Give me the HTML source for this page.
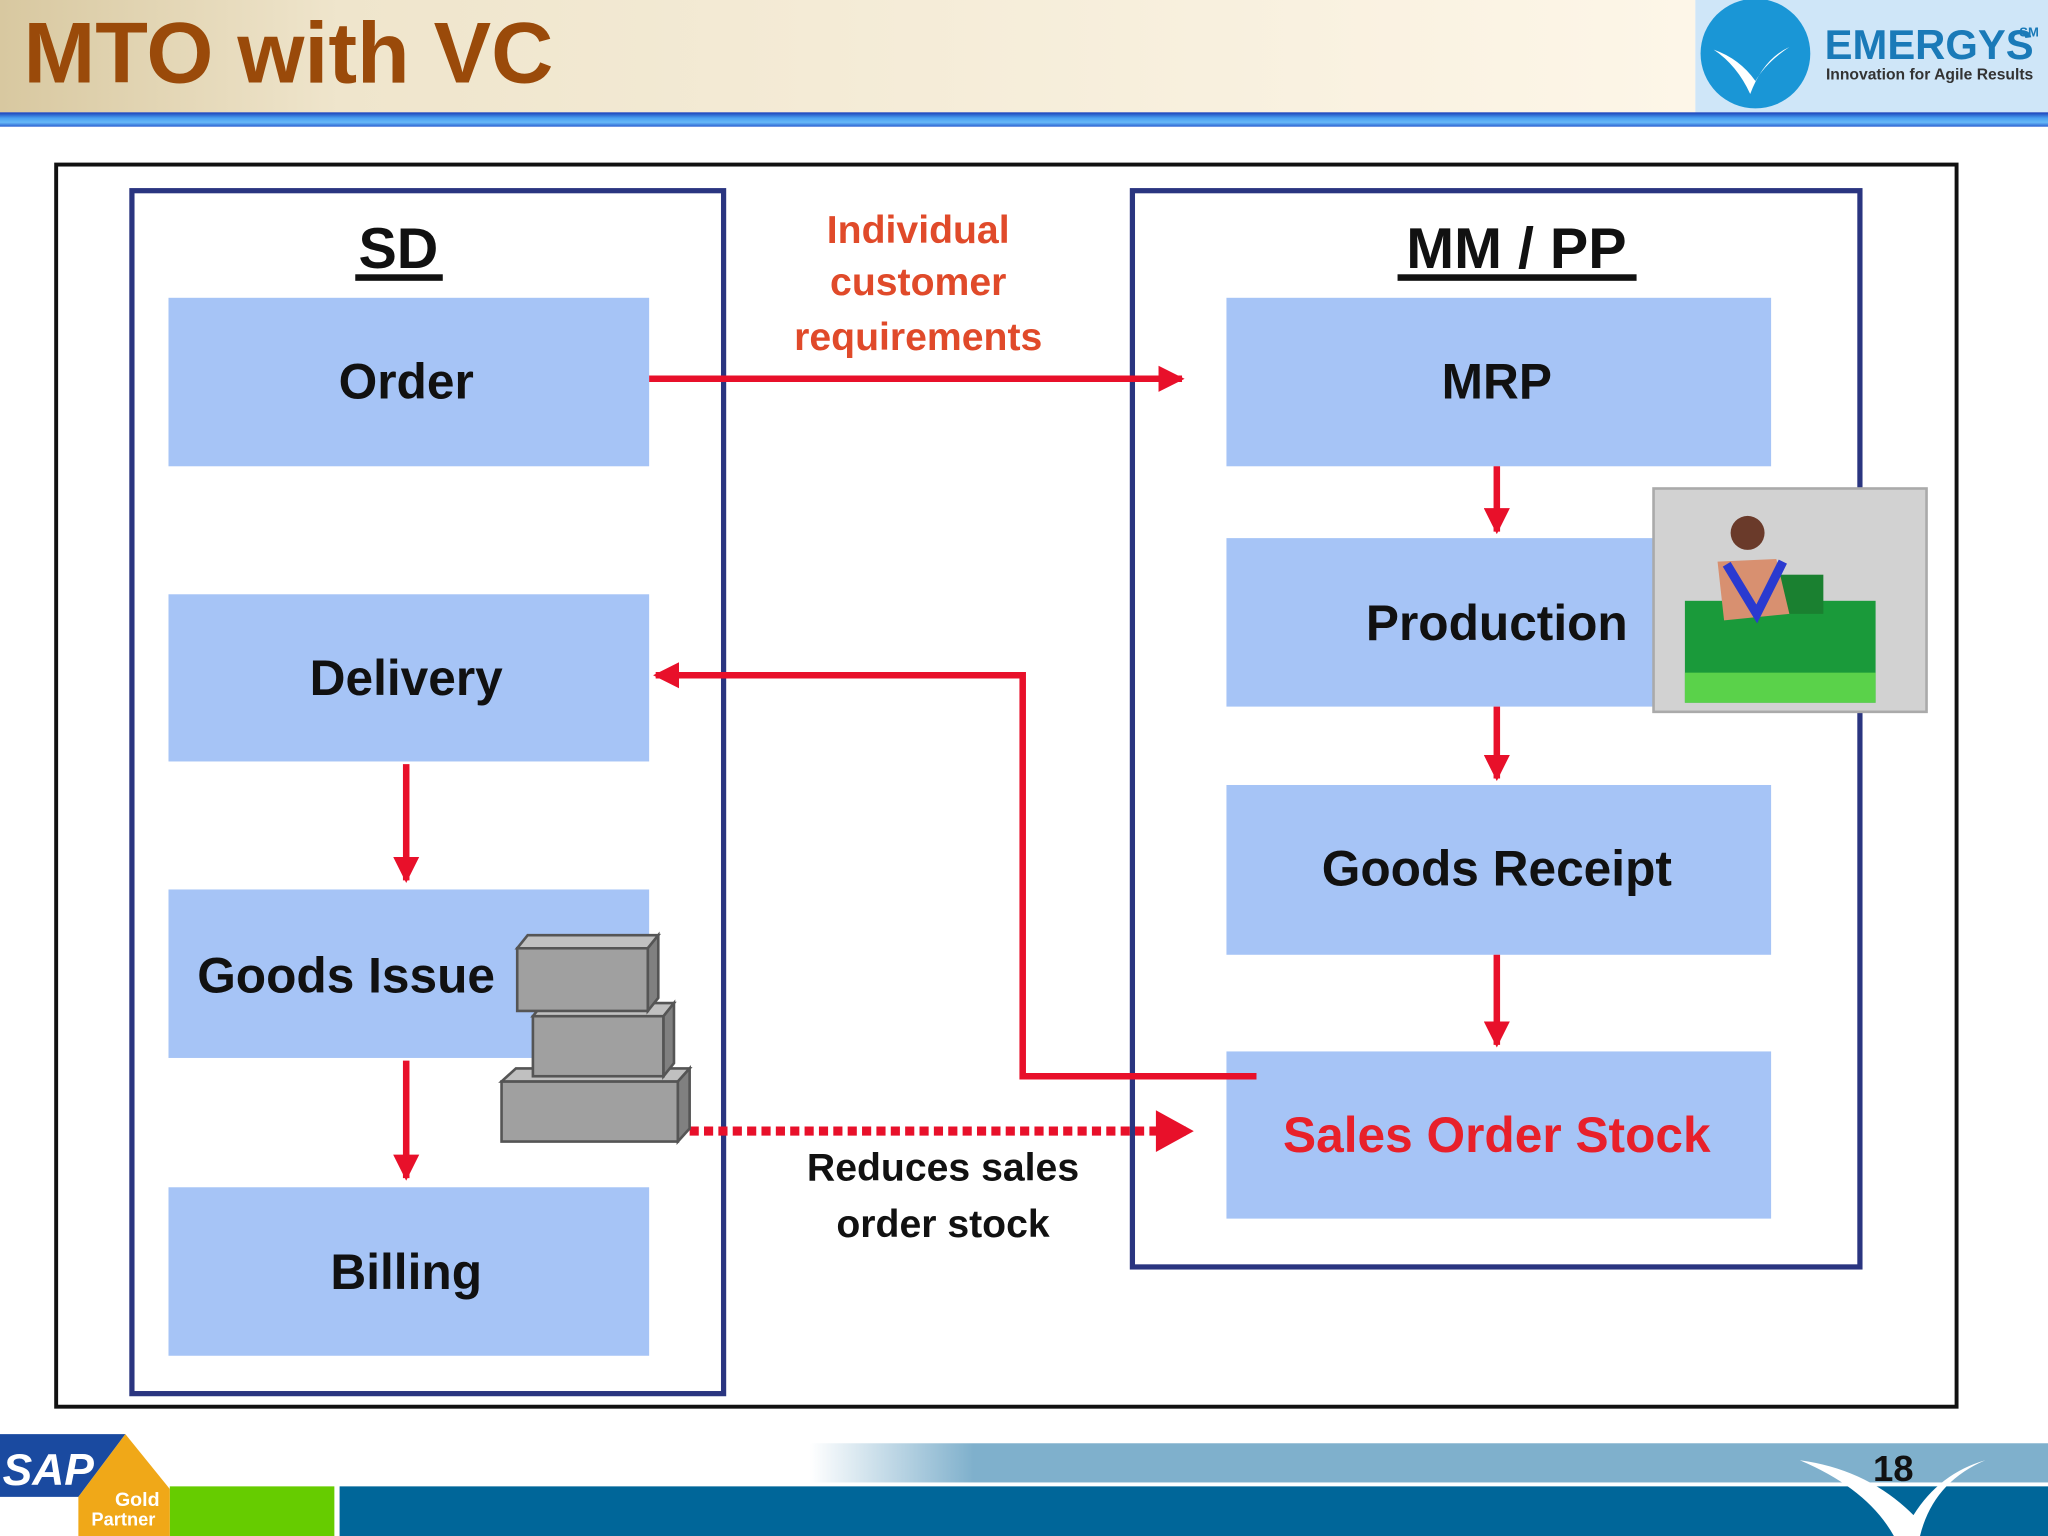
<!DOCTYPE html>
<html><head><meta charset="utf-8"><style>
html,body{margin:0;padding:0;background:#fff;overflow:hidden}
svg{display:block}
text{font-family:"Liberation Sans",Arial,sans-serif;font-weight:bold}
</style></head><body>
<svg width="2048" height="1536" viewBox="0 0 1568 1176" xmlns="http://www.w3.org/2000/svg">
<defs>
<linearGradient id="hd" x1="0" x2="1" y1="0" y2="0">
<stop offset="0" stop-color="#d8c8a0"/><stop offset="0.2" stop-color="#efe5cc"/><stop offset="1" stop-color="#fdf6e8"/></linearGradient>
<linearGradient id="bb" x1="0" x2="0" y1="0" y2="1">
<stop offset="0" stop-color="#1a3fb8"/><stop offset="0.4" stop-color="#4aa0f0"/><stop offset="0.7" stop-color="#66b8f8"/><stop offset="1" stop-color="#2a5fd0"/></linearGradient>
<linearGradient id="fl" x1="0" x2="1" y1="0" y2="0">
<stop offset="0" stop-color="#fff"/><stop offset="0.08" stop-color="#7fb0cc"/><stop offset="1" stop-color="#7fb0cc"/></linearGradient>
<marker id="ah" viewBox="0 0 10 10" refX="9" refY="5" markerWidth="4" markerHeight="4" orient="auto"><path d="M0,0L10,5L0,10z" fill="#e8102a"/></marker>
</defs>
<rect x="0" y="0" width="1298" height="86" fill="url(#hd)"/>
<rect x="1298" y="0" width="270" height="86" fill="#cfe6f8"/>
<text x="18" y="63" font-size="66" fill="#9a4a0a" font-family="Liberation Sans">MTO with VC</text>
<ellipse cx="1344" cy="41" rx="42" ry="42" fill="#1a96d6"/>
<path d="M1312,38 Q1330,50 1340,72 Q1350,45 1370,36 Q1352,48 1344,62 Q1332,45 1312,38z" fill="#fff"/>
<text x="1397" y="45" font-size="32" fill="#1a7ab8" font-weight="normal">EMERGYS</text>
<text x="1546" y="28" font-size="10" fill="#1a7ab8" font-weight="normal">SM</text>
<text x="1398" y="61" font-size="12" fill="#333" font-weight="normal">Innovation for Agile Results</text>
<rect x="0" y="86" width="1568" height="11" fill="url(#bb)"/>

<rect x="43" y="126" width="1455" height="951" fill="#fff" stroke="#111" stroke-width="3"/>
<rect x="101" y="146" width="453" height="921" fill="none" stroke="#2a3580" stroke-width="4"/>
<rect x="867" y="146" width="557" height="824" fill="none" stroke="#2a3580" stroke-width="4"/>
<text x="305" y="205" font-size="44" text-anchor="middle" fill="#111">SD</text>
<rect x="272" y="210" width="67" height="5" fill="#111"/>
<text x="1161" y="205" font-size="44" text-anchor="middle" fill="#111">MM / PP</text>
<rect x="1070" y="210" width="183" height="5" fill="#111"/>

<g fill="#a6c4f6">
<rect x="129" y="228" width="368" height="129"/>
<rect x="129" y="455" width="368" height="128"/>
<rect x="129" y="681" width="368" height="129"/>
<rect x="129" y="909" width="368" height="129"/>
<rect x="939" y="228" width="417" height="129"/>
<rect x="939" y="412" width="417" height="129"/>
<rect x="939" y="601" width="417" height="130"/>
<rect x="939" y="805" width="417" height="128"/>
</g>
<g font-size="38" fill="#111" text-anchor="middle">
<text x="311" y="305">Order</text>
<text x="311" y="532">Delivery</text>
<text x="265" y="760">Goods Issue</text>
<text x="311" y="987">Billing</text>
<text x="1146" y="305">MRP</text>
<text x="1146" y="490">Production</text>
<text x="1146" y="678">Goods Receipt</text>
<text x="1146" y="882" fill="#e8202a">Sales Order Stock</text>
</g>
<g font-size="30" fill="#e04a2a" text-anchor="middle">
<text x="703" y="186">Individual</text>
<text x="703" y="226">customer</text>
<text x="703" y="268">requirements</text>
</g>
<g font-size="30" fill="#111" text-anchor="middle">
<text x="722" y="904">Reduces sales</text>
<text x="722" y="947">order stock</text>
</g>
<g stroke="#e8102a" stroke-width="5" fill="none">
<line x1="497" y1="290" x2="905" y2="290" marker-end="url(#ah)"/>
<line x1="1146" y1="357" x2="1146" y2="407" marker-end="url(#ah)"/>
<line x1="1146" y1="541" x2="1146" y2="596" marker-end="url(#ah)"/>
<line x1="1146" y1="731" x2="1146" y2="800" marker-end="url(#ah)"/>
<line x1="311" y1="585" x2="311" y2="674" marker-end="url(#ah)"/>
<line x1="311" y1="812" x2="311" y2="902" marker-end="url(#ah)"/>
<polyline points="962,824 783,824 783,517 502,517" marker-end="url(#ah)"/>
<line x1="528" y1="866" x2="908" y2="866" stroke-dasharray="7,4" stroke-width="7"/>
</g>
<path d="M885,850 L914,866 L885,882z" fill="#e8102a"/>
<g fill="#a0a0a0" stroke="#555" stroke-width="2">
<rect x="384" y="828" width="135" height="46"/>
<path d="M384,828 L395,818 L528,818 L519,828z" fill="#c0c0c0"/>
<path d="M519,828 L528,818 L528,864 L519,874z" fill="#808080"/>
<rect x="408" y="778" width="100" height="46"/>
<path d="M408,778 L416,768 L516,768 L508,778z" fill="#c0c0c0"/>
<path d="M508,778 L516,768 L516,814 L508,824z" fill="#808080"/>
<rect x="396" y="726" width="100" height="48"/>
<path d="M396,726 L404,716 L504,716 L496,726z" fill="#c0c0c0"/>
<path d="M496,726 L504,716 L504,764 L496,774z" fill="#808080"/>
</g>
<rect x="1266" y="374" width="209" height="171" fill="#d2d2d2" stroke="#aaa" stroke-width="2"/>
<rect x="1290" y="460" width="146" height="78" fill="#1a9a3a"/>
<rect x="1290" y="515" width="146" height="23" fill="#5ad24a"/>
<rect x="1336" y="440" width="60" height="30" fill="#1a8030"/>
<circle cx="1338" cy="408" r="13" fill="#6a3a2a"/>
<path d="M1315,430 L1360,428 L1370,470 L1320,475z" fill="#d89070"/>
<path d="M1322,432 L1345,470 L1365,430" stroke="#2a3ad0" stroke-width="7" fill="none"/>

<rect x="0" y="1105" width="1568" height="30" fill="url(#fl)" transform="translate(620 0)"/>
<rect x="130" y="1138" width="126" height="38" fill="#66cc00"/>
<rect x="260" y="1138" width="1308" height="38" fill="#006699"/>
<path d="M0,1098 L96,1098 L60,1146 L0,1146z" fill="#1a4aa0"/>
<path d="M60,1146 L96,1098 L130,1140 L130,1176 L60,1176z" fill="#f0a818"/>
<text x="2" y="1137" font-size="34" fill="#fff" font-style="italic">SAP</text>
<text x="88" y="1153" font-size="15" fill="#fff">Gold</text>
<text x="70" y="1168" font-size="14" fill="#fff" font-weight="normal">Partner</text>
<path d="M1378,1118 Q1430,1140 1450,1176 L1470,1176 Q1480,1135 1520,1118 Q1485,1128 1465,1160 Q1430,1125 1378,1118z" fill="#fff"/>
<text x="1434" y="1134" font-size="28" fill="#111" font-family="Liberation Serif">18</text>
</svg>
</body></html>
